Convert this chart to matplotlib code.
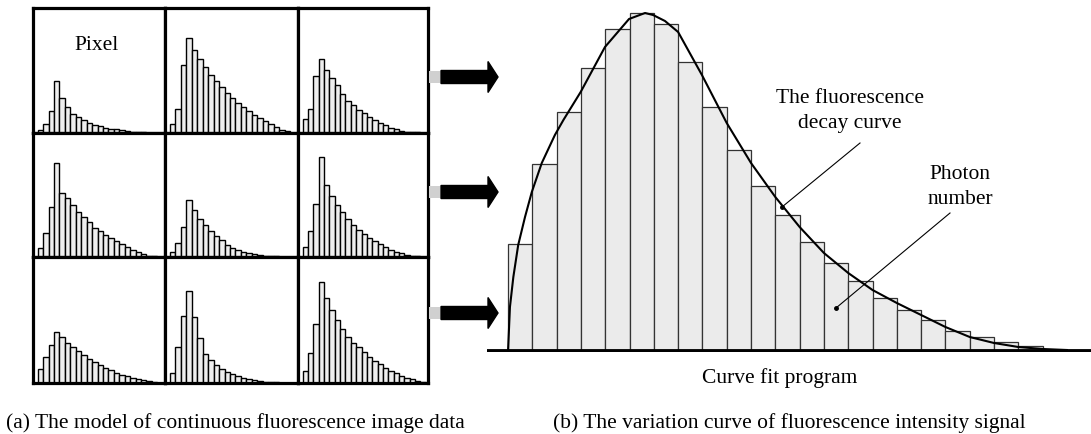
import numpy as np
import matplotlib.pyplot as plt
from matplotlib.patches import FancyArrow, Rectangle

plt.rcParams['font.family'] = ['Liberation Serif', 'DejaVu Serif']

# photon counts per time bin, 3x3 pixel grid (row by row)
pix1 = [8, 28, 67, 155, 105, 77, 58, 48, 38, 30, 24, 20, 16, 13, 11, 8, 6, 4, 3, 2, 1]
pix2 = [28, 72, 205, 285, 250, 223, 197, 175, 155, 137, 120, 105, 90, 77, 65, 55, 45, 35, 27, 18, 10, 5]
pix3 = [43, 73, 170, 222, 188, 165, 145, 118, 97, 85, 70, 60, 48, 40, 30, 23, 16, 11, 7, 4, 3, 2]
pix4 = [28, 72, 150, 283, 195, 178, 156, 135, 120, 106, 88, 78, 68, 58, 48, 38, 30, 22, 15, 9, 4, 2]
pix5 = [15, 42, 90, 172, 142, 116, 96, 78, 64, 50, 36, 26, 20, 15, 11, 8, 5, 4, 3, 2, 1, 1]
pix6 = [30, 78, 160, 302, 218, 183, 156, 135, 115, 96, 82, 70, 58, 48, 38, 30, 22, 16, 11, 7, 4, 2]
pix7 = [43, 78, 112, 153, 136, 120, 106, 94, 82, 71, 62, 54, 46, 38, 31, 25, 20, 15, 11, 8, 5, 3]
pix8 = [30, 108, 198, 275, 196, 133, 86, 68, 53, 41, 33, 26, 20, 15, 11, 8, 6, 4, 3, 2, 1]
pix9 = [35, 90, 175, 302, 253, 218, 188, 162, 138, 120, 106, 92, 78, 66, 56, 46, 36, 29, 22, 16, 11, 7, 4]
pixels = [pix1, pix2, pix3, pix4, pix5, pix6, pix7, pix8, pix9]

# summed histogram and the fitted decay curve
photons = [108, 188, 240, 284, 323, 339, 328, 290, 245, 202, 166, 137, 110, 89, 71, 54, 42, 32, 21, 15, 10, 6]
curve_x = [0, 0.08, 0.22, 0.42, 0.70, 0.98, 1.39, 1.93, 2.28, 2.99, 3.99, 4.98, 5.64, 5.97, 6.46, 7.0, 7.98,
           9.0, 10.0, 11.0, 12.0, 13.0, 14.0, 15.0, 16.0, 17.0, 18.0, 19.0, 20.0, 21.0, 22.0, 23.0]
curve_y = [0, 45, 75, 107, 135, 160, 189, 217, 232, 260, 305, 333, 339, 337, 331, 320, 277,
           229, 189, 155, 125, 99, 79, 62, 49, 37, 25, 15, 9, 5, 3, 2]

W, H = 1091, 434
fig = plt.figure(figsize=(W / 100, H / 100), dpi=100)

def px_axes(x0, y0, x1, y1):
    return fig.add_axes([x0 / W, 1 - y1 / H, (x1 - x0) / W, (y1 - y0) / H])

# left: grid of pixel histograms
col_edges = [33, 165, 298, 428]
row_edges = [8, 133, 257, 383]
for k, counts in enumerate(pixels):
    r, c = divmod(k, 3)
    ax = px_axes(col_edges[c], row_edges[r], col_edges[c + 1], row_edges[r + 1])
    ax.bar(np.arange(len(counts)), counts, width=1.0, align='edge',
           facecolor='#eeeeee', edgecolor='black', linewidth=1.0)
    ax.set_xlim(-0.85, 23.4)
    ax.set_ylim(0, 375)
    ax.set_xticks([])
    ax.set_yticks([])
    for s in ax.spines.values():
        s.set_linewidth(2.3)

# right: fluorescence intensity histogram with fitted curve
axr = px_axes(487, 0, 1091, 352)
axr.bar(np.arange(len(photons)), photons, width=1.0, align='edge',
        facecolor='#ebebeb', edgecolor='#333333', linewidth=0.9)
axr.plot(curve_x, curve_y, color='black', lw=1.5)
axr.axhline(0, color='black', lw=4.2)
axr.set_xlim(-0.864, 23.99)
axr.set_ylim(0, 352)
axr.axis('off')

# overlay for arrows and texts (pixel coordinates)
ov = fig.add_axes([0, 0, 1, 1])
ov.set_xlim(0, W)
ov.set_ylim(H, 0)
ov.axis('off')

for yc in [77, 192, 313]:
    ov.add_patch(Rectangle((429, yc - 6), 11, 12, facecolor='#d0d0d0', edgecolor='none'))
    ov.add_patch(FancyArrow(441, yc, 57, 0, width=13, head_width=31, head_length=10,
                            length_includes_head=True, color='black'))

fs = 15.5
ov.text(97, 45, 'Pixel', ha='center', va='center', fontsize=fs)
ov.text(850, 111, 'The fluorescence\ndecay curve', ha='center', va='center', fontsize=fs,
        linespacing=1.45)
ov.text(960, 187, 'Photon\nnumber', ha='center', va='center', fontsize=fs, linespacing=1.45)
ov.plot([860, 782], [143, 207], color='black', lw=0.8)
ov.plot([782], [207], 'o', color='black', ms=2.5)
ov.plot([950, 836], [213, 308], color='black', lw=0.8)
ov.plot([836], [308], 'o', color='black', ms=2.5)
ov.text(780, 378, 'Curve fit program', ha='center', va='center', fontsize=fs)
ov.text(235, 423, '(a) The model of continuous fluorescence image data', ha='center',
        va='center', fontsize=fs)
ov.text(789, 423, '(b) The variation curve of fluorescence intensity signal', ha='center',
        va='center', fontsize=fs)

fig.savefig('out.png', dpi=100)
